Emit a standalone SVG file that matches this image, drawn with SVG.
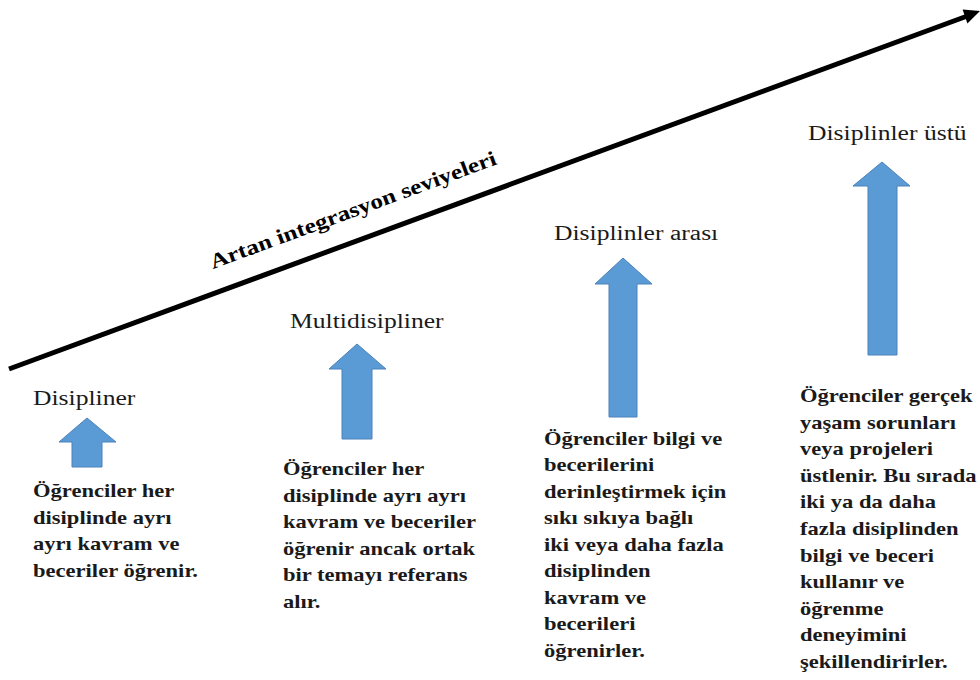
<svg xmlns="http://www.w3.org/2000/svg" width="980" height="680" viewBox="0 0 980 680">
  <style>
    .label { font-family: "Liberation Serif", "Times New Roman", serif; font-size: 20px; fill: #1a1a1a; }
    .body { font-family: "Liberation Serif", "Times New Roman", serif; font-size: 18.5px; font-weight: bold; fill: #1a1a1a; }
    .title { font-family: "Liberation Serif", "Times New Roman", serif; font-size: 21px; font-weight: bold; fill: #000; }
    .up { fill: #5B9BD5; stroke: #4A82BC; stroke-width: 1; }
    .axis { stroke: #000; stroke-width: 5; fill: none; }
  </style>

  <rect width="980" height="680" fill="#ffffff"/>

  <!-- rising axis of integration levels -->
  <g id="connectors">
    <line class="axis" x1="9" y1="369" x2="966" y2="16.5"/>
    <polygon points="980,11 967.4,23.6 962.6,9.4" fill="#000"/>
    <text class="title" transform="translate(213 269) rotate(-20.24) scale(1.2 1)">Artan integrasyon seviyeleri</text>
  </g>

  <!-- level 1 -->
  <g id="disipliner">
    <text class="label" transform="translate(33 405) scale(1.28 1)">Disipliner</text>
    <polygon class="up" points="87,418 116,442 102,442 102,467 72,467 72,442 59,442"/>
    <text class="body" transform="translate(33 497) scale(1.22 1)">
      <tspan x="0" y="0">Öğrenciler her</tspan>
      <tspan x="0" dy="26.6">disiplinde ayrı</tspan>
      <tspan x="0" dy="26.6">ayrı kavram ve</tspan>
      <tspan x="0" dy="26.6">beceriler öğrenir.</tspan>
    </text>
  </g>

  <!-- level 2 -->
  <g id="multidisipliner">
    <text class="label" transform="translate(290 328) scale(1.28 1)">Multidisipliner</text>
    <polygon class="up" points="357,344 386,369 372,369 372,439 342,439 342,369 329,369"/>
    <text class="body" transform="translate(283 475) scale(1.22 1)">
      <tspan x="0" y="0">Öğrenciler her</tspan>
      <tspan x="0" dy="26.6">disiplinde ayrı ayrı</tspan>
      <tspan x="0" dy="26.6">kavram ve beceriler</tspan>
      <tspan x="0" dy="26.6">öğrenir ancak ortak</tspan>
      <tspan x="0" dy="26.6">bir temayı referans</tspan>
      <tspan x="0" dy="26.6">alır.</tspan>
    </text>
  </g>

  <!-- level 3 -->
  <g id="disiplinler-arasi">
    <text class="label" transform="translate(554 240) scale(1.28 1)">Disiplinler arası</text>
    <polygon class="up" points="623,258 652,284 637,284 637,417 609,417 609,284 595,284"/>
    <text class="body" transform="translate(544 445) scale(1.22 1)">
      <tspan x="0" y="0">Öğrenciler bilgi ve</tspan>
      <tspan x="0" dy="26.5">becerilerini</tspan>
      <tspan x="0" dy="26.5">derinleştirmek için</tspan>
      <tspan x="0" dy="26.5">sıkı sıkıya bağlı</tspan>
      <tspan x="0" dy="26.5">iki veya daha fazla</tspan>
      <tspan x="0" dy="26.5">disiplinden</tspan>
      <tspan x="0" dy="26.5">kavram ve</tspan>
      <tspan x="0" dy="26.5">becerileri</tspan>
      <tspan x="0" dy="26.5">öğrenirler.</tspan>
    </text>
  </g>

  <!-- level 4 -->
  <g id="disiplinler-ustu">
    <text class="label" transform="translate(808 140) scale(1.28 1)">Disiplinler üstü</text>
    <polygon class="up" points="882,162 910,186 897,186 897,355 868,355 868,186 853,186"/>
    <text class="body" transform="translate(800 402) scale(1.22 1)">
      <tspan x="0" y="0">Öğrenciler gerçek</tspan>
      <tspan x="0" dy="26.6">yaşam sorunları</tspan>
      <tspan x="0" dy="26.6">veya projeleri</tspan>
      <tspan x="0" dy="26.6">üstlenir. Bu sırada</tspan>
      <tspan x="0" dy="26.6">iki ya da daha</tspan>
      <tspan x="0" dy="26.6">fazla disiplinden</tspan>
      <tspan x="0" dy="26.6">bilgi ve beceri</tspan>
      <tspan x="0" dy="26.6">kullanır ve</tspan>
      <tspan x="0" dy="26.6">öğrenme</tspan>
      <tspan x="0" dy="26.6">deneyimini</tspan>
      <tspan x="0" dy="26.6">şekillendirirler.</tspan>
    </text>
  </g>
</svg>
